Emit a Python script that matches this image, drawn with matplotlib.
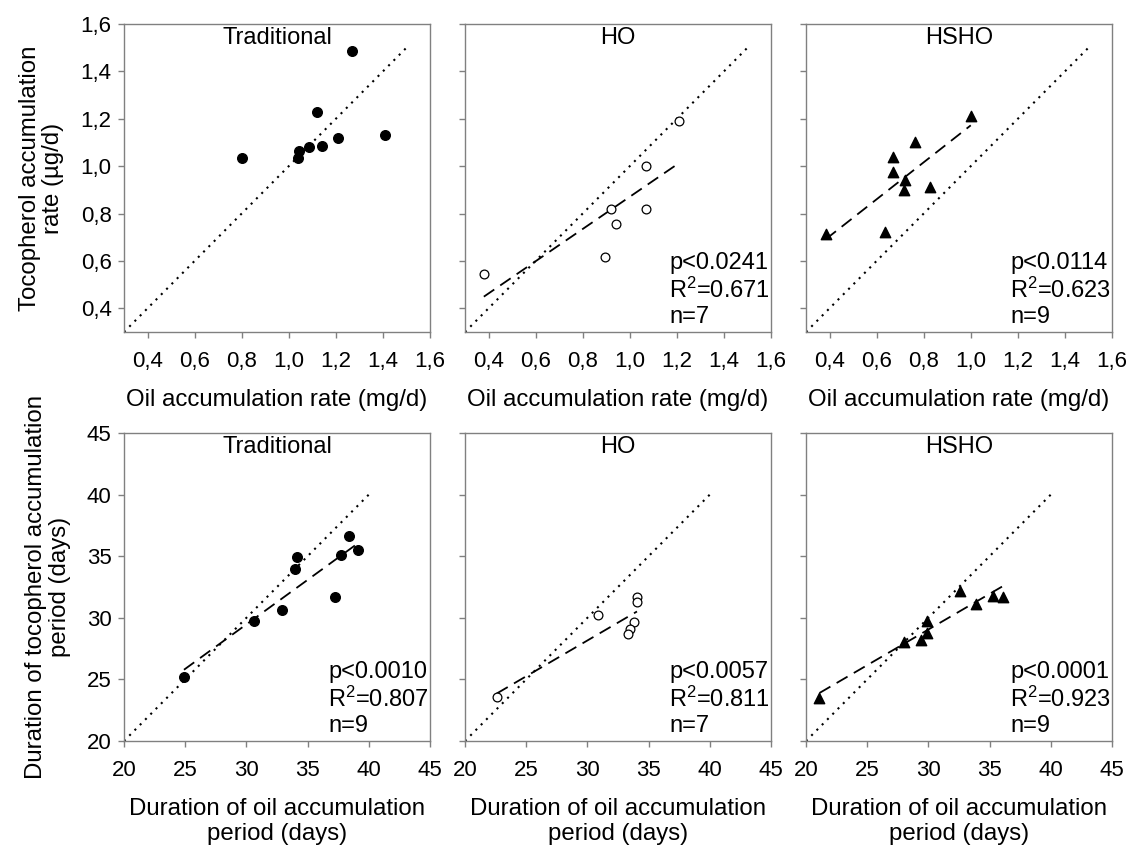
"""Tocopherol vs oil accumulation: rate (top row) and duration (bottom row)."""
import matplotlib

matplotlib.use("Agg")
import matplotlib.pyplot as plt
import numpy as np

plt.rcParams["font.family"] = ["Liberation Sans", "DejaVu Sans"]
plt.rcParams["mathtext.fontset"] = "custom"
plt.rcParams["mathtext.rm"] = "Liberation Sans"
plt.rcParams["mathtext.it"] = "Liberation Sans"

GROUPS = ["Traditional", "HO", "HSHO"]

# top row: accumulation rates (oil mg/d vs tocopherol ug/d)
rate_trad_x = [0.80, 1.27, 1.12, 1.045, 1.04, 1.085, 1.14, 1.21, 1.41]
rate_trad_y = [1.035, 1.485, 1.23, 1.065, 1.035, 1.08, 1.085, 1.12, 1.13]
rate_ho_x = [0.38, 0.895, 0.92, 0.94, 1.07, 1.07, 1.21]
rate_ho_y = [0.545, 0.615, 0.82, 0.755, 1.00, 0.82, 1.19]
rate_hsho_x = [0.385, 0.635, 0.67, 0.67, 0.72, 0.715, 0.765, 0.825, 1.00]
rate_hsho_y = [0.715, 0.72, 1.04, 0.975, 0.94, 0.90, 1.10, 0.91, 1.21]

# bottom row: durations (days)
dur_trad_x = [24.9, 30.6, 32.9, 34.0, 34.1, 37.2, 37.7, 38.4, 39.1]
dur_trad_y = [25.2, 29.7, 30.6, 34.0, 34.9, 31.7, 35.1, 36.6, 35.5]
dur_ho_x = [22.6, 30.9, 34.05, 34.05, 33.8, 33.5, 33.3]
dur_ho_y = [23.6, 30.2, 31.65, 31.3, 29.65, 29.1, 28.7]
dur_hsho_x = [21.1, 28.0, 29.4, 29.85, 29.9, 32.6, 33.9, 35.3, 36.1]
dur_hsho_y = [23.5, 28.0, 28.2, 28.8, 29.7, 32.2, 31.1, 31.8, 31.7]

rate_stats = [None, ("p<0.0241", "0.671", 7), ("p<0.0114", "0.623", 9)]
dur_stats = [("p<0.0010", "0.807", 9), ("p<0.0057", "0.811", 7), ("p<0.0001", "0.923", 9)]

RATE_DIAG = (0.3, 1.5)
DUR_DIAG = (20, 40)
RATE_TICKS = [0.4, 0.6, 0.8, 1.0, 1.2, 1.4, 1.6]
DUR_TICKS = [20, 25, 30, 35, 40, 45]

MARKERS = [
    dict(marker="o", s=48, facecolors="black", edgecolors="black"),
    dict(marker="o", s=40, facecolors="white", edgecolors="black", linewidths=0.9),
    dict(marker="^", s=56, facecolors="black", edgecolors="black"),
]

TICK_FS = 16
LABEL_FS = 17.3
TEXT_FS = 17
GREY = "#808080"

W, H = 1131, 847
COL_LEFT = [124, 465, 806]
COL_W = 306
ROW_TOP = [24, 433]
ROW_H = 308


def style_axes(ax, lims, ticks, show_ylabels):
    ax.set_xlim(lims)
    ax.set_ylim(lims)
    ax.set_xticks(ticks)
    ax.set_yticks(ticks)
    for sp in ax.spines.values():
        sp.set_color(GREY)
        sp.set_linewidth(1.0)
    ax.tick_params(direction="out", length=4, width=1.0, color=GREY,
                   labelsize=TICK_FS, top=False, right=False)
    ax.tick_params(axis="x", pad=10)
    ax.tick_params(axis="y", pad=5)
    if not show_ylabels:
        ax.tick_params(labelleft=False)


def draw_panel(ax, x, y, mstyle, diag, title, stats, fmt):
    ax.plot(diag, diag, color="black", lw=1.5, linestyle=(0, (1, 2.6)))
    if stats is not None:
        slope, icpt = np.polyfit(x, y, 1)
        xs = np.array([min(x), max(x)])
        ax.plot(xs, slope * xs + icpt, color="black", lw=1.3, linestyle=(0, (7, 4)))
    ax.scatter(x, y, zorder=3, **mstyle)
    ax.text(0.5, 0.99, title, transform=ax.transAxes, ha="center", va="top",
            fontsize=TEXT_FS)
    if stats is not None:
        p, r2, n = stats
        txt = f"{p}\nR$^{{2}}$={r2}\nn={n}"
        ax.text(0.997, 0.012, txt, transform=ax.transAxes, ha="right", va="bottom",
                multialignment="left", fontsize=TEXT_FS, linespacing=1.2)
    ax.xaxis.set_major_formatter(plt.FuncFormatter(fmt))
    ax.yaxis.set_major_formatter(plt.FuncFormatter(fmt))


def comma_fmt(v, _pos):
    return f"{v:.1f}".replace(".", ",")


def int_fmt(v, _pos):
    return f"{v:.0f}"


def main():
    fig = plt.figure(figsize=(W / 100, H / 100), dpi=100)
    rate_data = [(rate_trad_x, rate_trad_y), (rate_ho_x, rate_ho_y), (rate_hsho_x, rate_hsho_y)]
    dur_data = [(dur_trad_x, dur_trad_y), (dur_ho_x, dur_ho_y), (dur_hsho_x, dur_hsho_y)]

    for i in range(3):
        # top row
        ax = fig.add_axes([COL_LEFT[i] / W, 1 - (ROW_TOP[0] + ROW_H) / H, COL_W / W, ROW_H / H])
        style_axes(ax, (0.3, 1.6), RATE_TICKS, i == 0)
        draw_panel(ax, *rate_data[i], MARKERS[i], RATE_DIAG, GROUPS[i], rate_stats[i], comma_fmt)
        ax.set_xlabel("Oil accumulation rate (mg/d)", fontsize=LABEL_FS, labelpad=12)
        if i == 0:
            ax.set_ylabel("Tocopherol accumulation\nrate (µg/d)", fontsize=LABEL_FS,
                          labelpad=12, linespacing=1.05)

        # bottom row
        ax = fig.add_axes([COL_LEFT[i] / W, 1 - (ROW_TOP[1] + ROW_H) / H, COL_W / W, ROW_H / H])
        style_axes(ax, (20, 45), DUR_TICKS, i == 0)
        draw_panel(ax, *dur_data[i], MARKERS[i], DUR_DIAG, GROUPS[i], dur_stats[i], int_fmt)
        ax.set_xlabel("Duration of oil accumulation\nperiod (days)", fontsize=LABEL_FS,
                      labelpad=12, linespacing=1.15)
        if i == 0:
            ax.set_ylabel("Duration of tocopherol accumulation\nperiod (days)",
                          fontsize=LABEL_FS, labelpad=11, linespacing=1.15)

    fig.savefig("out.png", dpi=100)


if __name__ == "__main__":
    main()
